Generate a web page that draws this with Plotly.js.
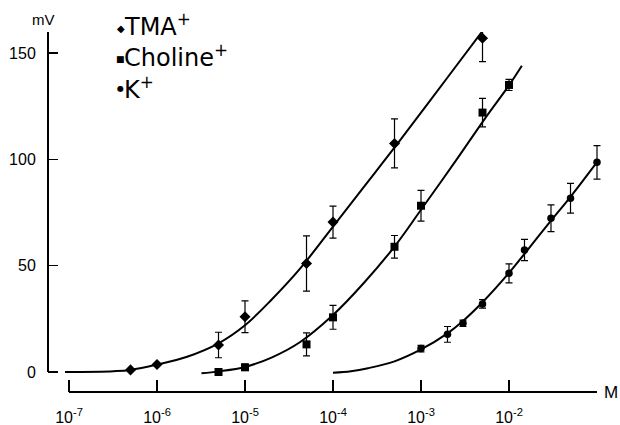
<!DOCTYPE html>
<html>
<head>
<meta charset="utf-8">
<script src="https://cdn.plot.ly/plotly-3.0.1.min.js"></script>
<style>html,body{margin:0;padding:0;background:#fff;}#chart{width:620px;height:425px;}</style>
</head>
<body>
<div id="chart"></div>
<script>
// Measured points (concentration in M, potential in mV, error half-length in mV)
const tmaConc = [5e-7, 1e-6, 5e-6, 1e-5, 5e-5, 1e-4, 5e-4, 5e-3];
const tmaMV   = [1, 3.5, 12.7, 26, 51, 70.5, 107.5, 157];
const tmaErr  = [null, null, 6, 7.5, 13, 7.5, 11.5, 11];

const cholConc = [5e-6, 1e-5, 5e-5, 1e-4, 5e-4, 1e-3, 5e-3, 1e-2];
const cholMV   = [0, 2.2, 13, 25.7, 58.9, 78.2, 122, 135];
const cholErr  = [null, 1.5, 5.4, 5.6, 5.3, 7.2, 6.7, 2.6];

const kConc = [1e-3, 2e-3, 3e-3, 5e-3, 1e-2, 1.5e-2, 3e-2, 5e-2, 1e-1];
const kMV   = [11, 17.7, 22.9, 32, 46.4, 57.4, 72.3, 81.7, 98.6];
const kErr  = [1.5, 3.7, 1.5, 2, 4.5, 5, 6.3, 7, 7.9];

// Fitted curves
const tmaFitConc = [9e-8, 3.2e-7, 5e-7, 1e-6, 2.2e-6, 5e-6, 1e-5, 2e-5, 4.2e-5, 1e-4, 2.2e-4, 5.8e-4, 2e-3, 6.2e-3];
const tmaFitMV   = [0, 0.4, 1.0, 3.5, 7.2, 13.5, 22, 34, 48.5, 68.4, 86.6, 109, 138.5, 165.5];

const cholFitConc = [3.2e-6, 5e-6, 1e-5, 2e-5, 4.2e-5, 1e-4, 2.2e-4, 5e-4, 1e-3, 2.5e-3, 5.5e-3, 1e-2, 1.4e-2];
const cholFitMV   = [-0.6, 0.3, 2.4, 6.8, 14, 26.8, 41.5, 59, 76.3, 99.5, 120, 134.8, 144];

const kFitConc = [1e-4, 1.6e-4, 2.5e-4, 5e-4, 1e-3, 2e-3, 3e-3, 5e-3, 1e-2, 1.5e-2, 3e-2, 5e-2, 1e-1];
const kFitMV   = [-0.3, 0.4, 1.8, 5.0, 10.6, 18.2, 24, 32.8, 46.6, 55.6, 71.2, 82.4, 98.7];

// Axis ticks
const xTickVals = [1e-7, 1e-6, 1e-5, 1e-4, 1e-3, 1e-2];
const xTickText = ['10<sup>-7</sup>', '10<sup>-6</sup>', '10<sup>-5</sup>', '10<sup>-4</sup>', '10<sup>-3</sup>', '10<sup>-2</sup>'];
const yTickVals = [0, 50, 100, 150];
const yTickText = ['0', '50', '100', '150'];

// Legend
const legendNames = ['TMA<sup>+</sup>', 'Choline<sup>+</sup>', 'K<sup>+</sup>'];

const black = '#000';
const clear = 'rgba(0,0,0,0)';

function fitTrace(x, y) {
  return {x: x, y: y, type: 'scatter', mode: 'lines',
    line: {color: black, width: 2, shape: 'spline', smoothing: 1},
    hoverinfo: 'skip'};
}
function pointTrace(x, y, e, symbol, size) {
  return {x: x, y: y, type: 'scatter', mode: 'markers',
    marker: {symbol: symbol, size: size, color: black},
    error_y: {type: 'data', array: e, visible: true, color: black, thickness: 1.2, width: 3.5}};
}

const data = [
  // invisible anchor so the tick-only overlay axes get drawn
  {x: [xTickVals[0]], y: [yTickVals[0]], xaxis: 'x2', yaxis: 'y2', type: 'scatter',
    mode: 'markers', marker: {opacity: 0, size: 1}, hoverinfo: 'skip'},
  fitTrace(tmaFitConc, tmaFitMV),
  fitTrace(cholFitConc, cholFitMV),
  fitTrace(kFitConc, kFitMV),
  pointTrace(tmaConc, tmaMV, tmaErr, 'diamond', 8.5),
  pointTrace(cholConc, cholMV, cholErr, 'square', 8),
  pointTrace(kConc, kMV, kErr, 'circle', 7.5)
];

const W = 620, H = 425;
const L = 48, R = 15, T = 32, B = 33;
const pw = W - L - R, ph = H - T - B;
const px = v => (v - L) / pw;
const py = v => (H - B - v) / ph;

const legendSymbols = ['\u25C6', '\u25A0', '\u25CF'];
const legendSymSize = [10, 9, 8];
const legendSymY = [28.5, 59, 88.5];
const legendRowsY = [25, 56.5, 87.5];

const annotations = [];
for (let i = 0; i < legendNames.length; i++) {
  annotations.push({xref: 'paper', yref: 'paper', x: px(120.5), y: py(legendSymY[i]),
    text: legendSymbols[i], showarrow: false, xanchor: 'center', yanchor: 'middle',
    font: {size: legendSymSize[i], color: black, family: 'DejaVu Sans'}});
  annotations.push({xref: 'paper', yref: 'paper', x: px(122), y: py(legendRowsY[i]),
    text: legendNames[i], showarrow: false, xanchor: 'left', yanchor: 'middle',
    font: {size: 24, color: black, family: 'DejaVu Sans'}});
}
annotations.push({xref: 'paper', yref: 'paper', x: px(43), y: py(20), text: 'mV',
  showarrow: false, xanchor: 'center', yanchor: 'middle', font: {size: 15, color: black}});
annotations.push({xref: 'paper', yref: 'paper', x: px(602), y: 0, text: 'M',
  showarrow: false, xanchor: 'left', yanchor: 'middle', font: {size: 17, color: black}});

const xRange = [-7 - 21/88, -7 + 536/88];
const yRange = [-9.4, 159.9];

const layout = {
  width: W, height: H,
  margin: {l: L, r: R, t: T, b: B, pad: 0},
  paper_bgcolor: '#fff', plot_bgcolor: '#fff',
  showlegend: false,
  font: {family: 'Liberation Sans', color: black, size: 16},
  // label-bearing axes (transparent outside ticks push labels out)
  xaxis: {type: 'log', range: xRange,
    tickvals: xTickVals, ticktext: xTickText,
    ticks: 'outside', ticklen: 11, tickcolor: clear,
    showline: false, showgrid: false, zeroline: false,
    tickfont: {size: 16, color: black}},
  yaxis: {range: yRange, tickvals: yTickVals, ticktext: yTickText,
    ticks: 'outside', ticklen: 8, tickcolor: clear,
    showline: false, showgrid: false, zeroline: false,
    tickfont: {size: 16, color: black}},
  // tick-bearing axes (inside ticks, no labels)
  xaxis2: {type: 'log', range: xRange, overlaying: 'x', anchor: 'y2', side: 'bottom',
    tickvals: xTickVals, showticklabels: false,
    ticks: 'inside', ticklen: 12, tickwidth: 1.5, tickcolor: black,
    showline: false, showgrid: false, zeroline: false},
  yaxis2: {range: yRange, overlaying: 'y', anchor: 'x2', side: 'left',
    tickvals: yTickVals, showticklabels: false,
    ticks: 'inside', ticklen: 10, tickwidth: 1.5, tickcolor: black,
    showline: false, showgrid: false, zeroline: false},
  shapes: [
    {type: 'line', xref: 'paper', yref: 'y', x0: 0, x1: 0, y0: 0, y1: 159.9,
      line: {color: black, width: 2}},
    {type: 'line', xref: 'paper', yref: 'paper', x0: px(69), x1: px(597), y0: 0, y1: 0,
      line: {color: black, width: 2}}
  ],
  annotations: annotations
};

Plotly.newPlot('chart', data, layout, {displayModeBar: false, staticPlot: true});
</script>
</body>
</html>
